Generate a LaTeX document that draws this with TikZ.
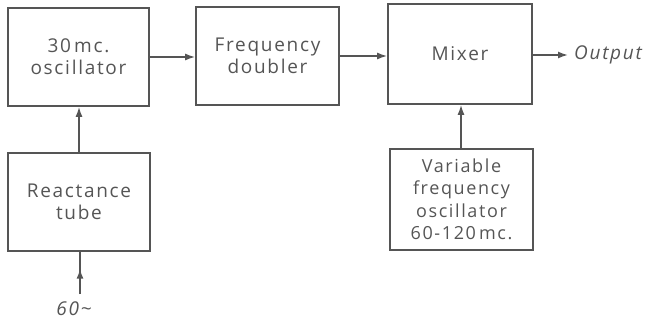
\documentclass[tikz,border=0pt]{standalone}
\usepackage{fontspec}
\setmainfont{Open Sans}
\newfontfamily\lbl[LetterSpace=9]{Open Sans}
\usetikzlibrary{arrows.meta,decorations.markings,positioning}
\definecolor{ink}{HTML}{555555}
\begin{document}
\begin{tikzpicture}[x=1pt,y=-1pt,
  blk/.style={draw=ink,line width=1.6pt,minimum width=141pt,minimum height=98pt,inner sep=0pt,align=center,text=ink,font=\lbl\fontsize{19}{22}\selectfont},
  conn/.style={draw=ink,line width=1.6pt,-{Latex[length=10pt,width=7pt]}},
  midarrow/.style={draw=ink,line width=1.6pt,postaction={decorate},decoration={markings,mark=at position 0.6 with {\arrow{Latex[length=10pt,width=7pt]}}}}]
\useasboundingbox (0,0) rectangle (650,321);
\node[blk] (osc) at (78.5,57) {30\,mc.\\oscillator};
\node[blk,minimum width=143pt] (dbl) at (267.5,56) {Frequency\\doubler};
\node[blk,minimum width=144pt,minimum height=100pt] (mix) at (460,54) {Mixer};
\node[blk,minimum width=142pt] (rt) at (79,202) {Reactance\\tube};
\node[blk,minimum width=143pt,minimum height=101pt,font=\lbl\fontsize{18}{22.5}\selectfont] (vfo) at (461.5,199.5) {Variable\\frequency\\oscillator\\60-120\,mc.};
\node[text=ink,font=\lbl\itshape\fontsize{19}{22}\selectfont,anchor=west,inner sep=0pt] (out) at (574,55) {Output};
\node[text=ink,font=\lbl\itshape\fontsize{19}{22}\selectfont] (sig) at (74,309) {60\textasciitilde};
\coordinate (outend) at (568,55);
\coordinate (sigtop) at (80,294);
\draw[conn] (osc.east |- 0,57) -- (dbl.west |- 0,57);
\draw[conn] (dbl.east |- 0,56) -- (mix.west |- 0,56);
\draw[conn] (mix.east |- 0,55) -- (outend);
\draw[conn] (rt.north -| 79,0) -- (osc.south -| 79,0);
\draw[conn] (vfo.north -| 461,0) -- (mix.south -| 461,0);
\draw[midarrow] (sigtop) -- (rt.south -| 80,0);
\end{tikzpicture}
\end{document}
